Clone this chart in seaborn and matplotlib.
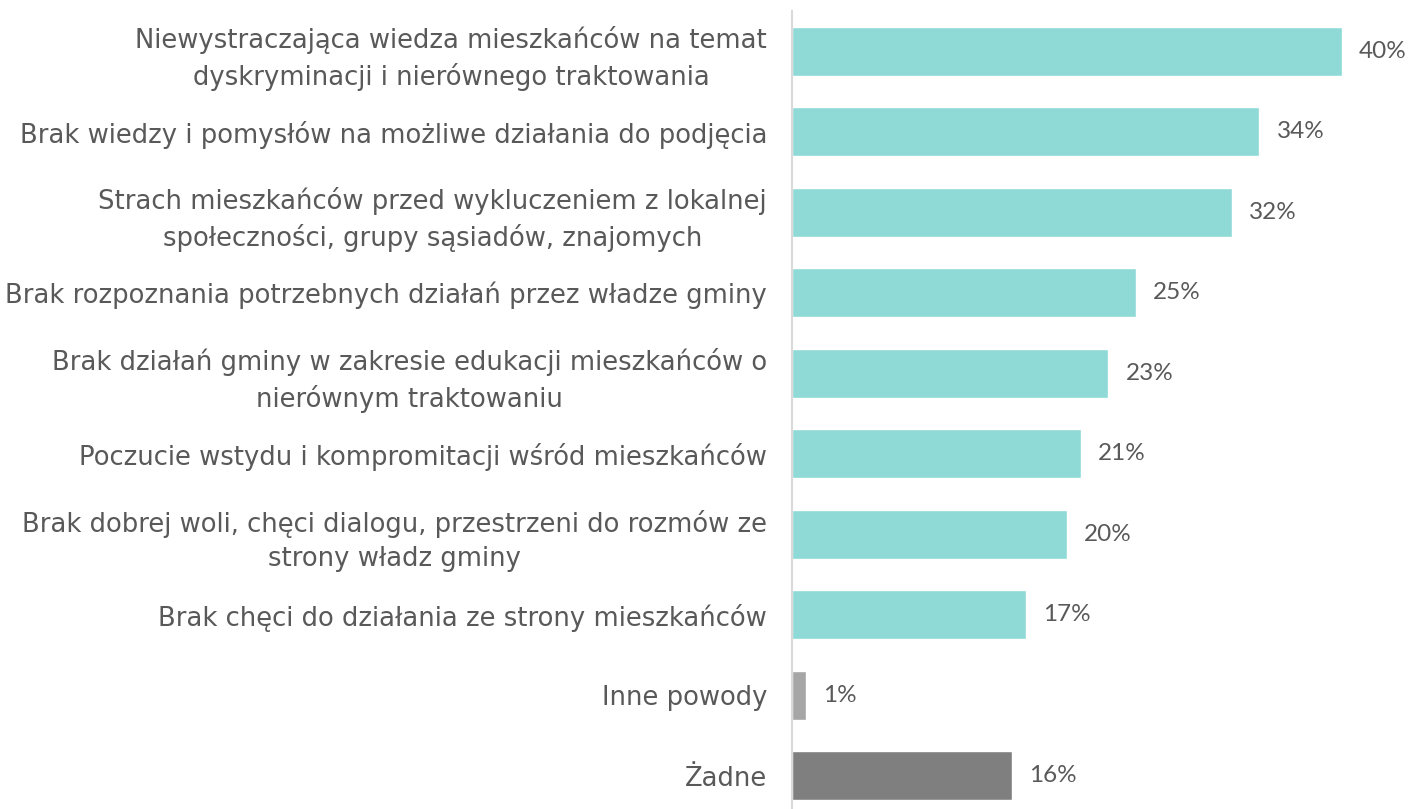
import matplotlib
matplotlib.use("Agg")
import matplotlib.pyplot as plt
import seaborn as sns
import pandas as pd

categories = [
    "Niewystraczająca wiedza mieszkańców na temat\ndyskryminacji i nierównego traktowania",
    "Brak wiedzy i pomysłów na możliwe działania do podjęcia",
    "Strach mieszkańców przed wykluczeniem z lokalnej\nspołeczności, grupy sąsiadów, znajomych",
    "Brak rozpoznania potrzebnych działań przez władze gminy",
    "Brak działań gminy w zakresie edukacji mieszkańców o\nnierównym traktowaniu",
    "Poczucie wstydu i kompromitacji wśród mieszkańców",
    "Brak dobrej woli, chęci dialogu, przestrzeni do rozmów ze\nstrony władz gminy",
    "Brak chęci do działania ze strony mieszkańców",
    "Inne powody",
    "Żadne",
]
values = [40, 34, 32, 25, 23, 21, 20, 17, 1, 16]
colors = ["#8FD9D7"] * 8 + ["#A6A6A6", "#7F7F7F"]

df = pd.DataFrame({"category": categories, "value": values})

sns.set_theme(style="white")
plt.rcParams["font.family"] = ["DejaVu Sans"]

fig = plt.figure(figsize=(14.10, 8.09), dpi=100)
ax = fig.add_axes([792 / 1410, 0.0, 1 - 792 / 1410, (809 - 11) / 809])

sns.barplot(data=df, x="value", y="category", hue="category", palette=colors,
            legend=False, width=0.61, ax=ax, saturation=1)

ax.set_xlim(0, 44.95)
ax.set_ylim(9.416, -0.5)

text_color = "#595959"
for i, v in enumerate(values):
    ax.text(v + 1.25, i, f"{v}%", va="center", ha="left", fontsize=17.5,
            color=text_color, family=["Lato", "DejaVu Sans"])

ax.set_xlabel("")
ax.set_ylabel("")
ax.set_xticks([])
ax.tick_params(axis="y", length=0, pad=18)
for lbl in ax.get_yticklabels():
    lbl.set_fontsize(18.6)
    lbl.set_color(text_color)
    lbl.set_multialignment("center")
    lbl.set_linespacing(1.42)

for side in ["top", "right", "bottom"]:
    ax.spines[side].set_visible(False)
ax.spines["left"].set_color("#D9D9D9")
ax.spines["left"].set_linewidth(1.5)

fig.savefig("out.png", dpi=100)
